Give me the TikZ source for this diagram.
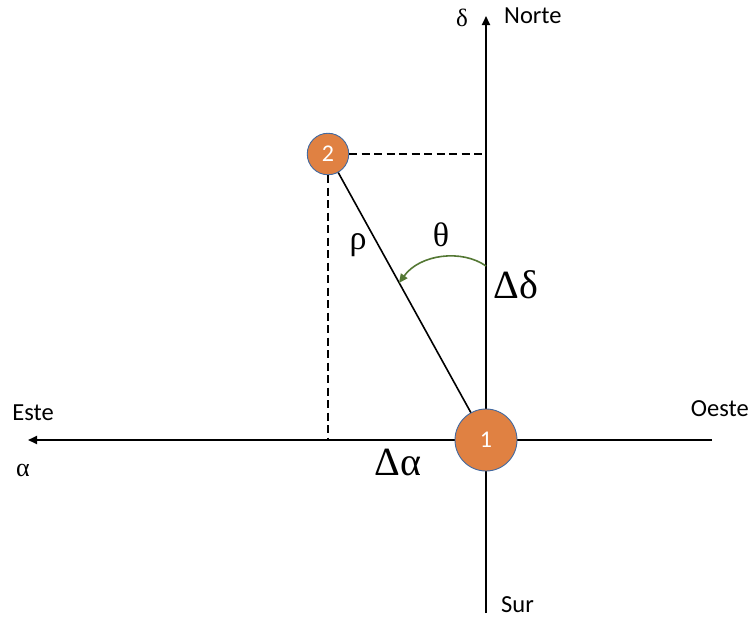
\documentclass[tikz,border=0pt]{standalone}
\usepackage{fontspec}
\setmainfont{Carlito}
\newfontfamily\greekfont{Liberation Serif}
\usetikzlibrary{arrows.meta}
\definecolor{dotorange}{RGB}{224,129,66}
\definecolor{dotedge}{RGB}{65,105,160}
\definecolor{arcgreen}{RGB}{84,120,52}
\begin{document}
\begin{tikzpicture}[x=1pt,y=-1pt,
  axis/.style={line width=1.8pt,-{Triangle[length=9pt,width=8pt]}},
  guide/.style={line width=1.5pt,dash pattern=on 8pt off 4.5pt},
  dot/.style={circle,fill=dotorange,draw=dotedge,line width=0.9pt,inner sep=0pt,text=white,font=\fontsize{24}{26}\selectfont},
  lbl/.style={inner sep=0pt,font=\fontsize{24.5}{26}\selectfont},
  glbl/.style={inner sep=0pt,font=\greekfont\fontsize{#1}{#1}\selectfont}
]
\useasboundingbox (0,0) rectangle (750,622);
% axes
\coordinate (N) at (486,16);
\coordinate (S) at (486,613);
\coordinate (E) at (28,440);
\coordinate (W) at (712,440);
\draw[axis] (S) -- (N);
\draw[axis] (W) -- (E);
% stars
\node[dot,minimum size=62pt] (c1) at (486,440) {1};
\node[dot,minimum size=41.5pt] (c2) at (328,154) {2};
% guides
\coordinate (dh) at (486,154);
\coordinate (dv) at (328,440);
\draw[guide] (c2) -- (dh);
\draw[guide] (c2) -- (dv);
\draw[line width=1.6pt] (c2) -- (c1);
% angle arc
\coordinate (a0) at (486,266);
\coordinate (a1) at (399,283);
\draw[arcgreen,line width=1.6pt,-{Triangle[length=9pt,width=8pt]}] (a0) .. controls (462,249) and (420,254) .. (a1);
% labels
\node[glbl=25] (ldelta) at (462,18) {δ};
\node[lbl,anchor=west] (lnorte) at (504,16) {Norte};
\node[lbl] (leste) at (33,413) {Este};
\node[glbl=26] (lalpha) at (23,470) {α};
\node[lbl,anchor=east] (loeste) at (749,409) {Oeste};
\node[lbl,anchor=west] (lsur) at (501,605) {Sur};
\node[glbl=34] (lrho) at (358,245) {ρ};
\node[glbl=34] (ltheta) at (441,235) {θ};
\node[glbl=40] (ldd) at (516,285) {Δδ};
\node[glbl=40] (lda) at (398,462) {Δα};
\end{tikzpicture}
\end{document}
